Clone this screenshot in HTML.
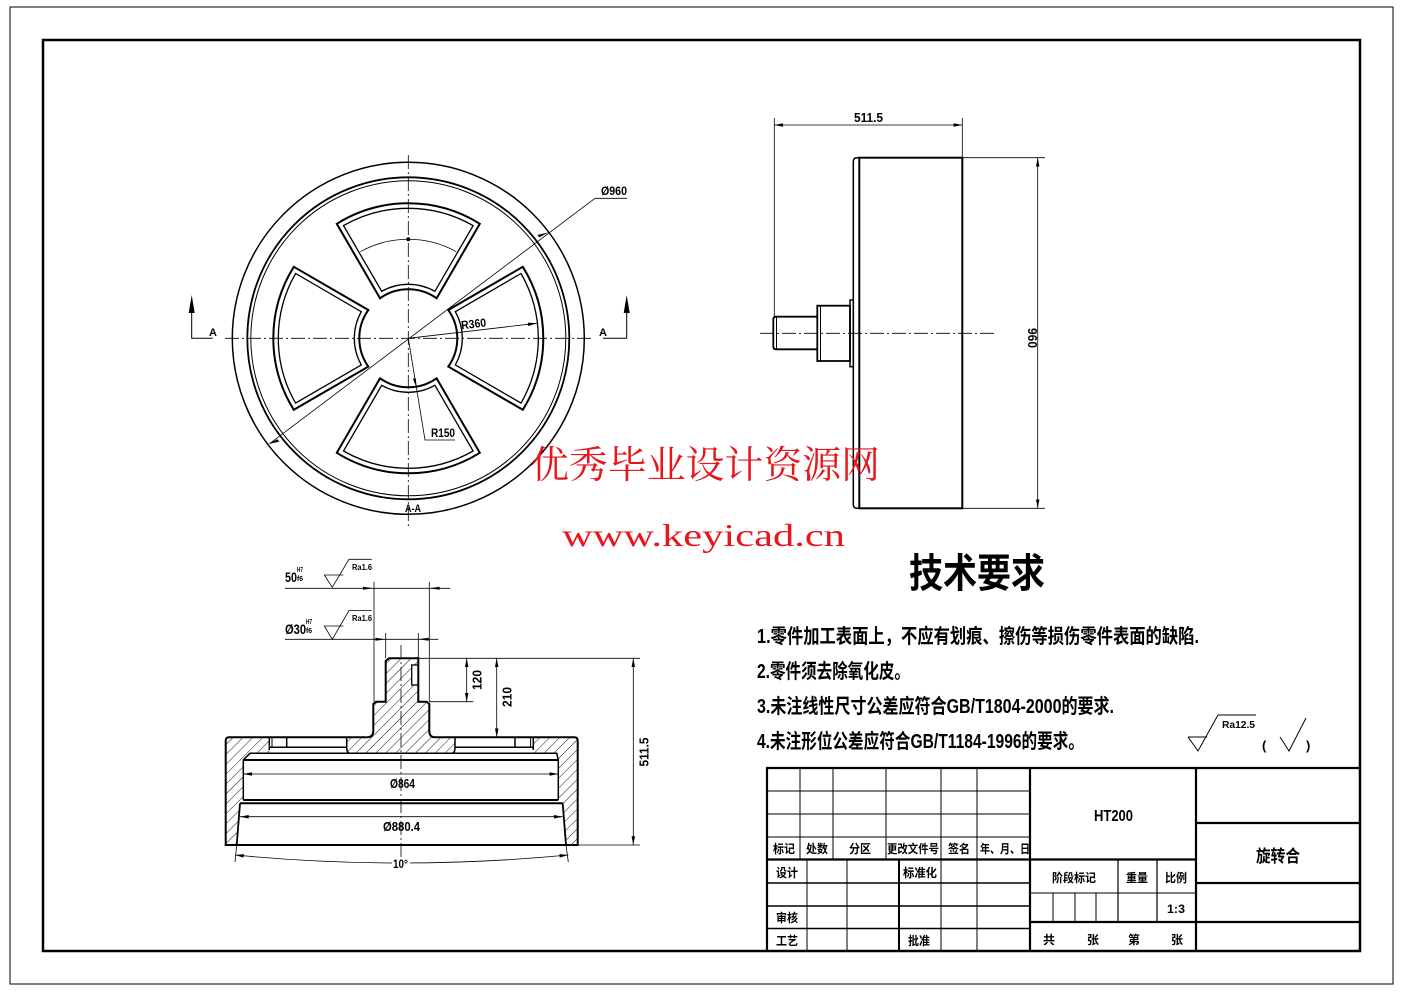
<!DOCTYPE html>
<html>
<head>
<meta charset="utf-8">
<style>
html,body{margin:0;padding:0;background:#fff;}
svg{display:block;}
.t{font-family:"Liberation Sans",sans-serif;font-weight:bold;fill:#000;}
.c{font-family:"Liberation Sans","Noto Sans CJK SC",sans-serif;font-weight:bold;fill:#000;}
.s{font-family:"Liberation Serif","Noto Serif CJK SC",serif;fill:#000;}
</style>
</head>
<body>
<svg width="1403" height="992" viewBox="0 0 1403 992" xmlns="http://www.w3.org/2000/svg">
<defs>
 <pattern id="h" patternUnits="userSpaceOnUse" width="7" height="7" patternTransform="rotate(45)">
  <line x1="0" y1="0" x2="0" y2="7" stroke="#000" stroke-width="0.9"/>
 </pattern>
 <marker id="ar" viewBox="0 0 10 4" refX="10" refY="2" markerWidth="10" markerHeight="3.5" markerUnits="userSpaceOnUse" orient="auto-start-reverse">
  <path d="M0,0L10,2L0,4z" fill="#000"/>
 </marker>
</defs>
<rect width="1403" height="992" fill="#fff"/>

<!-- Borders -->
<rect x="10" y="7" width="1383" height="977" fill="none" stroke="#000" stroke-width="1"/>
<rect x="43" y="40" width="1317" height="911" fill="none" stroke="#000" stroke-width="2.5"/>

<!-- ================= FRONT VIEW ================= -->
<g fill="none" stroke="#000">
 <circle cx="408.3" cy="338.3" r="176" stroke-width="1.5"/>
 <circle cx="408.3" cy="338.3" r="161" stroke-width="1.8"/>
 <circle cx="408.3" cy="338.3" r="157.5" stroke-width="1"/>
 <!-- centerlines -->
 <line x1="225" y1="338.3" x2="592" y2="338.3" stroke-width="0.8" stroke-dasharray="14,3,2,3"/>
 <line x1="408.3" y1="155" x2="408.3" y2="528" stroke-width="0.8" stroke-dasharray="14,3,2,3"/>
</g>
<g transform="translate(408.3,338.3)" fill="none" stroke="#000">
 <g id="pk">
  <path d="M40,-28.3 L114.5,-71.5 A135,135 0 0 1 114.5,71.5 L40,28.3 A49,49 0 0 0 40,-28.3 Z" stroke-width="2"/>
  <path d="M47,-26.6 L112.7,-64.8 A130,130 0 0 1 112.7,64.8 L47,26.6 A54,54 0 0 0 47,-26.6 Z" stroke-width="1.3"/>
 </g>
 <use href="#pk" transform="rotate(90)"/>
 <use href="#pk" transform="rotate(180)"/>
 <use href="#pk" transform="rotate(270)"/>
 <path d="M-48,-86.6 A99,99 0 0 1 48,-86.6" stroke-width="0.8"/>
 <circle cx="0" cy="-99" r="1.5" fill="#000"/>
</g>
<!-- Ø960 leader -->
<g stroke="#000" fill="none" stroke-width="0.8">
 <line x1="270" y1="443.3" x2="595" y2="198.3"/>
 <line x1="595" y1="198.3" x2="627" y2="198.3"/>
</g>
<path d="M548.8,232.3 L539.2,237.4 L537.4,235 Z" fill="#000"/>
<path d="M267.8,444.3 L277.4,439.2 L279.2,441.6 Z" fill="#000"/>
<text x="601" y="195" class="t" font-size="12" textLength="26" lengthAdjust="spacingAndGlyphs">Ø960</text>
<!-- R360 -->
<line x1="408.3" y1="338.3" x2="536.7" y2="323.3" stroke="#000" stroke-width="0.8" marker-end="url(#ar)"/>
<text x="461" y="328" class="t" font-size="12" textLength="25" lengthAdjust="spacingAndGlyphs" transform="rotate(-6.7 473 323)">R360</text>
<!-- R150 -->
<polyline points="408.3,338.3 425,440 455,440" fill="none" stroke="#000" stroke-width="0.8"/>
<path d="M416.7,388.3 L412.9,378.7 L415.8,378.3 Z" fill="#000"/>
<text x="431" y="437" class="t" font-size="12" textLength="24" lengthAdjust="spacingAndGlyphs">R150</text>
<!-- Section marks -->
<g stroke="#000" fill="none" stroke-width="1">
 <polyline points="191.7,312 191.7,338.3 212.7,338.3"/>
 <polyline points="626.7,312 626.7,338.3 603,338.3"/>
</g>
<path d="M191.7,295 L188.7,313 L194.7,313 Z" fill="#000"/>
<path d="M626.7,295 L623.7,313 L629.7,313 Z" fill="#000"/>
<text x="209" y="336" class="t" font-size="11">A</text>
<text x="599" y="336" class="t" font-size="11">A</text>
<text x="405" y="512" class="t" font-size="11" textLength="16" lengthAdjust="spacingAndGlyphs">A-A</text>

<!-- ================= SIDE VIEW ================= -->
<g fill="none" stroke="#000">
 <rect x="859.3" y="157.7" width="103" height="350.6" stroke-width="2"/>
 <path d="M859.3,157.7 L857,157.7 Q853.3,157.7 853.3,161.5 L853.3,504.5 Q853.3,508.3 857,508.3 L859.3,508.3" stroke-width="1.5"/>
 <rect x="850" y="300" width="3.3" height="66.7" stroke-width="1.5"/>
 <rect x="817.3" y="305.7" width="32.7" height="55.3" stroke-width="1.8"/>
 <line x1="820.5" y1="305.7" x2="820.5" y2="361" stroke-width="1"/>
 <path d="M817.3,316.7 L776,316.7 Q773.3,316.7 773.3,319.5 L773.3,346.5 Q773.3,349.3 776,349.3 L817.3,349.3" stroke-width="1.8"/>
 <line x1="776.5" y1="316.7" x2="776.5" y2="349.3" stroke-width="1"/>
 <line x1="760" y1="333.3" x2="995" y2="333.3" stroke-width="0.8" stroke-dasharray="14,3,2,3"/>
 <!-- dims -->
 <line x1="774.3" y1="118" x2="774.3" y2="316" stroke-width="0.8"/>
 <line x1="962.3" y1="118" x2="962.3" y2="157" stroke-width="0.8"/>
 <line x1="774.3" y1="125" x2="962.3" y2="125" stroke-width="0.8" marker-start="url(#ar)" marker-end="url(#ar)"/>
 <line x1="962.3" y1="157.7" x2="1045" y2="157.7" stroke-width="0.8"/>
 <line x1="962.3" y1="508.3" x2="1045" y2="508.3" stroke-width="0.8"/>
 <line x1="1037.7" y1="157.7" x2="1037.7" y2="508.3" stroke-width="0.8" marker-start="url(#ar)" marker-end="url(#ar)"/>
</g>
<text x="854" y="122" class="t" font-size="13" textLength="29" lengthAdjust="spacingAndGlyphs">511.5</text>
<text x="1023" y="333" class="t" font-size="13" textLength="20" lengthAdjust="spacingAndGlyphs" transform="rotate(90 1028 333)">960</text>

<!-- ================= SECTION VIEW ================= -->
<!-- hatched regions -->
<g fill="url(#h)" stroke="none">
 <path d="M225.7,741 Q225.7,737.3 229,737.3 L269.3,737.3 L269.3,753.3 L250,753.3 L243.3,760 L243.3,800 L240,803.3 L236.7,845 L225.7,845 Z"/>
 <path d="M577.7,741 Q577.7,737.3 574.4,737.3 L533.3,737.3 L533.3,753.3 L556.7,753.3 L558.3,760 L558.3,800 L562.7,803.3 L566,845 L577.7,845 Z"/>
 <path d="M346.7,737.3 L366.7,737.3 Q373.3,737.3 373.3,731 L373.3,704 L376,701.7 L385.7,701.7 L385.7,661 L389,658.3 L418.3,658.3 L418.3,701.7 L426.7,701.7 L429.3,704 L429.3,731 Q429.3,737.3 435,737.3 L455,737.3 L455,747.3 Q455,753.3 452,753.3 L350,753.3 Q346.7,753.3 346.7,747.3 Z"/>
</g>
<rect x="411.7" y="665" width="6.6" height="20" fill="#fff" stroke="#000" stroke-width="1.3"/>
<g fill="none" stroke="#000">
 <!-- outer body -->
 <path d="M366.7,737.3 L229,737.3 Q225.7,737.3 225.7,741 L225.7,845 L577.7,845 L577.7,741 Q577.7,737.3 574.4,737.3 L435,737.3" stroke-width="2"/>
 <!-- shaft -->
 <path d="M366.7,737.3 Q373.3,737.3 373.3,731 L373.3,704 L376,701.7 L385.7,701.7 L385.7,661 L389,658.3 L418.3,658.3 L418.3,701.7 L426.7,701.7 L429.3,704 L429.3,731 Q429.3,737.3 435,737.3" stroke-width="2"/>
 <!-- pockets -->
 <line x1="269.3" y1="737.3" x2="269.3" y2="750" stroke-width="1.5"/>
 <line x1="272" y1="737.3" x2="272" y2="747.3" stroke-width="1"/>
 <line x1="286.7" y1="737.3" x2="286.7" y2="747.3" stroke-width="1.5"/>
 <line x1="269.3" y1="747.3" x2="346.7" y2="747.3" stroke-width="1.5"/>
 <path d="M346.7,737.3 L346.7,747.3 Q346.7,753.3 350,753.3" stroke-width="1.5"/>
 <line x1="533.3" y1="737.3" x2="533.3" y2="750" stroke-width="1.5"/>
 <line x1="530.6" y1="737.3" x2="530.6" y2="747.3" stroke-width="1"/>
 <line x1="515" y1="737.3" x2="515" y2="747.3" stroke-width="1.5"/>
 <line x1="455" y1="747.3" x2="533.3" y2="747.3" stroke-width="1.5"/>
 <path d="M455,737.3 L455,747.3 Q455,753.3 452,753.3" stroke-width="1.5"/>
 <!-- cavity -->
 <polyline points="243.3,800 243.3,760 250,753.3 556.7,753.3 558.3,760 558.3,800" stroke-width="1.5"/>
 <line x1="243.3" y1="760" x2="558.3" y2="760" stroke-width="2"/>
 <line x1="243.3" y1="800" x2="558.3" y2="800" stroke-width="2"/>
 <line x1="240" y1="803.3" x2="562.7" y2="803.3" stroke-width="2"/>
 <polyline points="240,803.3 236.7,845" stroke-width="1.8"/>
 <polyline points="562.7,803.3 566,845" stroke-width="1.8"/>
 <!-- centerline -->
 <line x1="401" y1="645" x2="401" y2="867" stroke-width="0.8" stroke-dasharray="14,3,2,3"/>
 <!-- dimension lines -->
 <line x1="374" y1="581.7" x2="374" y2="701.7" stroke-width="0.8"/>
 <line x1="429.3" y1="581.7" x2="429.3" y2="701.7" stroke-width="0.8"/>
 <line x1="385.7" y1="633" x2="385.7" y2="658.3" stroke-width="0.8"/>
 <line x1="418.3" y1="633" x2="418.3" y2="658.3" stroke-width="0.8"/>
 <line x1="285" y1="588.3" x2="450" y2="588.3" stroke-width="0.8"/>
 <line x1="285" y1="639.3" x2="438.3" y2="639.3" stroke-width="0.8"/>
 <line x1="418.3" y1="658.3" x2="640" y2="658.3" stroke-width="0.8"/>
 <line x1="429.3" y1="701.7" x2="473.3" y2="701.7" stroke-width="0.8"/>
 <line x1="435" y1="737.3" x2="503.3" y2="737.3" stroke-width="0.8"/>
 <line x1="577.7" y1="845" x2="640" y2="845" stroke-width="0.8"/>
 <line x1="466.7" y1="658.3" x2="466.7" y2="701.7" stroke-width="0.8" marker-start="url(#ar)" marker-end="url(#ar)"/>
 <line x1="496.7" y1="658.3" x2="496.7" y2="737.3" stroke-width="0.8" marker-start="url(#ar)" marker-end="url(#ar)"/>
 <line x1="633.3" y1="658.3" x2="633.3" y2="845" stroke-width="0.8" marker-start="url(#ar)" marker-end="url(#ar)"/>
 <line x1="243.3" y1="774" x2="558.3" y2="774" stroke-width="0.8" marker-start="url(#ar)" marker-end="url(#ar)"/>
 <line x1="240" y1="816.7" x2="562.7" y2="816.7" stroke-width="0.8" marker-start="url(#ar)" marker-end="url(#ar)"/>
 <line x1="236.7" y1="845" x2="235" y2="862" stroke-width="0.8"/>
 <line x1="566" y1="845" x2="568.3" y2="862" stroke-width="0.8"/>
 <path d="M235,855 Q401,871 568.3,855" stroke-width="0.8" marker-start="url(#ar)" marker-end="url(#ar)"/>
 <!-- roughness symbols -->
 <polyline points="324.3,575 343.3,575" stroke-width="0.8"/>
 <polyline points="324.3,575 332.3,587.3 349,559.3 371.7,559.3" stroke-width="0.8"/>
 <polyline points="324.3,626 343.3,626" stroke-width="0.8"/>
 <polyline points="324.3,626 332.3,639.3 349,610.5 371.7,610.5" stroke-width="0.8"/>
</g>
<path d="M363,586.8 L373.3,588.3 L363,589.8 Z" fill="#000"/>
<path d="M439.6,586.8 L429.3,588.3 L439.6,589.8 Z" fill="#000"/>
<path d="M375.4,637.8 L385.7,639.3 L375.4,640.8 Z" fill="#000"/>
<path d="M428.6,637.8 L418.3,639.3 L428.6,640.8 Z" fill="#000"/>

<text x="285" y="582" class="t" font-size="14" textLength="12" lengthAdjust="spacingAndGlyphs">50</text>
<text x="297" y="572" class="t" font-size="7" textLength="6" lengthAdjust="spacingAndGlyphs">H7</text>
<text x="297" y="581" class="t" font-size="7" textLength="6" lengthAdjust="spacingAndGlyphs">f6</text>
<text x="352" y="570" class="t" font-size="8" textLength="20" lengthAdjust="spacingAndGlyphs">Ra1.6</text>
<text x="285" y="634" class="t" font-size="14" textLength="21" lengthAdjust="spacingAndGlyphs">Ø30</text>
<text x="306" y="624" class="t" font-size="7" textLength="6" lengthAdjust="spacingAndGlyphs">H7</text>
<text x="306" y="633" class="t" font-size="7" textLength="6" lengthAdjust="spacingAndGlyphs">f6</text>
<text x="352" y="621" class="t" font-size="8" textLength="20" lengthAdjust="spacingAndGlyphs">Ra1.6</text>
<text x="467" y="684.5" class="t" font-size="13" textLength="20" lengthAdjust="spacingAndGlyphs" transform="rotate(-90 477 680)">120</text>
<text x="497" y="701.5" class="t" font-size="13" textLength="20" lengthAdjust="spacingAndGlyphs" transform="rotate(-90 507 697)">210</text>
<text x="629.5" y="756.5" class="t" font-size="13" textLength="29" lengthAdjust="spacingAndGlyphs" transform="rotate(-90 644 752)">511.5</text>
<text x="390" y="788" class="t" font-size="13" textLength="25" lengthAdjust="spacingAndGlyphs">Ø864</text>
<text x="383" y="831" class="t" font-size="13" textLength="37" lengthAdjust="spacingAndGlyphs">Ø880.4</text>
<rect x="392" y="857" width="18" height="12" fill="#fff"/>
<text x="393" y="868" class="t" font-size="12" textLength="15" lengthAdjust="spacingAndGlyphs">10°</text>

<!-- ================= WATERMARK ================= -->
<text x="530" y="478" font-family="'Liberation Serif','Noto Serif CJK SC',serif" font-size="38" fill="#e8151b" textLength="350" lengthAdjust="spacingAndGlyphs">优秀毕业设计资源网</text>
<text x="562" y="546" font-family="'Liberation Serif',serif" font-size="32" fill="#e8151b" textLength="283" lengthAdjust="spacingAndGlyphs">www.keyicad.cn</text>

<!-- ================= TECH REQUIREMENTS ================= -->
<text x="909" y="587" class="c" font-size="40" textLength="136" lengthAdjust="spacingAndGlyphs">技术要求</text>
<text x="757" y="643" class="c" font-size="20" textLength="442" lengthAdjust="spacingAndGlyphs">1.零件加工表面上，不应有划痕、擦伤等损伤零件表面的缺陷.</text>
<text x="757" y="678" class="c" font-size="20" textLength="153" lengthAdjust="spacingAndGlyphs">2.零件须去除氧化皮。</text>
<text x="757" y="713" class="c" font-size="20" textLength="357" lengthAdjust="spacingAndGlyphs">3.未注线性尺寸公差应符合GB/T1804-2000的要求.</text>
<text x="757" y="748" class="c" font-size="20" textLength="327" lengthAdjust="spacingAndGlyphs">4.未注形位公差应符合GB/T1184-1996的要求。</text>
<g fill="none" stroke="#000" stroke-width="1">
 <polyline points="1188,737 1207,737"/>
 <polyline points="1188,737 1198,751 1218,715 1256,715"/>
 <polyline points="1280,737 1289,751 1306,718"/>
</g>
<text x="1222" y="728" class="t" font-size="10" textLength="33" lengthAdjust="spacingAndGlyphs">Ra12.5</text>
<text x="1262" y="750" class="t" font-size="13">(</text>
<text x="1306" y="750" class="t" font-size="13">)</text>

<!-- ================= TITLE BLOCK ================= -->
<g stroke="#000" fill="none">
 <line x1="766" y1="768" x2="1360" y2="768" stroke-width="2.2"/>
 <line x1="767" y1="768" x2="767" y2="951" stroke-width="2.2"/>
 <line x1="1030" y1="768" x2="1030" y2="951" stroke-width="2.2"/>
 <line x1="1196" y1="768" x2="1196" y2="951" stroke-width="2.2"/>
 <!-- left upper -->
 <line x1="767" y1="791" x2="1030" y2="791" stroke-width="1"/>
 <line x1="767" y1="814" x2="1030" y2="814" stroke-width="1"/>
 <line x1="767" y1="837" x2="1030" y2="837" stroke-width="1"/>
 <line x1="800" y1="768" x2="800" y2="859" stroke-width="1"/>
 <line x1="833" y1="768" x2="833" y2="859" stroke-width="1"/>
 <line x1="886" y1="768" x2="886" y2="859" stroke-width="1"/>
 <line x1="941" y1="768" x2="941" y2="859" stroke-width="1"/>
 <line x1="977" y1="768" x2="977" y2="859" stroke-width="1"/>
 <line x1="767" y1="859.5" x2="1196" y2="859.5" stroke-width="2.2"/>
 <!-- left lower -->
 <line x1="767" y1="883" x2="1030" y2="883" stroke-width="1.6"/>
 <line x1="767" y1="906" x2="1030" y2="906" stroke-width="1.6"/>
 <line x1="767" y1="928.5" x2="1030" y2="928.5" stroke-width="1.6"/>
 <line x1="807" y1="859" x2="807" y2="951" stroke-width="1"/>
 <line x1="847" y1="859" x2="847" y2="951" stroke-width="1"/>
 <line x1="899" y1="859" x2="899" y2="951" stroke-width="2"/>
 <line x1="941" y1="859" x2="941" y2="951" stroke-width="1"/>
 <line x1="977" y1="859" x2="977" y2="951" stroke-width="1"/>
 <!-- middle -->
 <line x1="1030" y1="893" x2="1196" y2="893" stroke-width="1"/>
 <line x1="1030" y1="922" x2="1360" y2="922" stroke-width="2.2"/>
 <line x1="1118" y1="859" x2="1118" y2="922" stroke-width="1.2"/>
 <line x1="1157" y1="859" x2="1157" y2="922" stroke-width="1.2"/>
 <line x1="1053" y1="893" x2="1053" y2="922" stroke-width="1"/>
 <line x1="1075" y1="893" x2="1075" y2="922" stroke-width="1"/>
 <line x1="1096" y1="893" x2="1096" y2="922" stroke-width="1"/>
 <!-- right -->
 <line x1="1196" y1="823" x2="1360" y2="823" stroke-width="2.2"/>
 <line x1="1196" y1="883" x2="1360" y2="883" stroke-width="2.2"/>
</g>
<g class="c" font-size="12">
 <text x="773" y="853" textLength="22" lengthAdjust="spacingAndGlyphs">标记</text>
 <text x="806" y="853" textLength="22" lengthAdjust="spacingAndGlyphs">处数</text>
 <text x="849" y="853" textLength="22" lengthAdjust="spacingAndGlyphs">分区</text>
 <text x="887" y="853" textLength="52" lengthAdjust="spacingAndGlyphs">更改文件号</text>
 <text x="948" y="853" textLength="22" lengthAdjust="spacingAndGlyphs">签名</text>
 <text x="980" y="853" textLength="50" lengthAdjust="spacingAndGlyphs">年、月、日</text>
 <text x="776" y="877" textLength="22" lengthAdjust="spacingAndGlyphs">设计</text>
 <text x="903" y="877" textLength="34" lengthAdjust="spacingAndGlyphs">标准化</text>
 <text x="776" y="922" textLength="22" lengthAdjust="spacingAndGlyphs">审核</text>
 <text x="776" y="945" textLength="22" lengthAdjust="spacingAndGlyphs">工艺</text>
 <text x="908" y="945" textLength="22" lengthAdjust="spacingAndGlyphs">批准</text>
 <text x="1052" y="882" textLength="44" lengthAdjust="spacingAndGlyphs">阶段标记</text>
 <text x="1126" y="882" textLength="22" lengthAdjust="spacingAndGlyphs">重量</text>
 <text x="1165" y="882" textLength="22" lengthAdjust="spacingAndGlyphs">比例</text>
 <text x="1043" y="944">共</text>
 <text x="1087" y="944">张</text>
 <text x="1128" y="944">第</text>
 <text x="1171" y="944">张</text>
</g>
<text x="1167" y="913" class="t" font-size="12" textLength="18" lengthAdjust="spacingAndGlyphs">1:3</text>
<text x="1094" y="821" class="t" font-size="16" textLength="39" lengthAdjust="spacingAndGlyphs">HT200</text>
<text x="1256" y="862" class="c" font-size="17" textLength="44" lengthAdjust="spacingAndGlyphs">旋转合</text>
</svg>
</body>
</html>
